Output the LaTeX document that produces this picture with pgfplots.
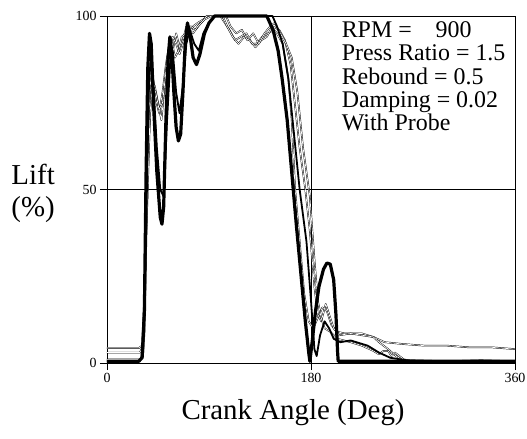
\documentclass[border=0pt]{standalone}
\usepackage{fontspec}
\setmainfont{Liberation Serif}
\usepackage{pgfplots}
\pgfplotsset{compat=1.18}
\begin{document}
\begin{tikzpicture}
\useasboundingbox (-107bp,-76bp) rectangle (420bp,363bp);
\begin{axis}[
 at={(0,0)}, anchor=south west,
 scale only axis, width=408bp, height=347bp,
 xmin=0, xmax=360, ymin=0, ymax=100,
 xtick={0,180,360}, ytick={0,50,100},
 grid=major, grid style={black, line width=0.7bp},
 axis line style={line width=0.9bp},
 tick align=outside, tick pos=left, major tick length=7bp,
 tick style={black, line width=0.8bp},
 /pgf/number format/assume math mode=true,
 ticklabel style={font=\fontsize{14}{14}\selectfont},
 xlabel={Crank Angle (Deg)},
 xlabel style={font=\fontsize{29}{30}\selectfont, at={(axis description cs:0.456,-0.144)}, anchor=center},
 ylabel={Lift\\(\%)},
 ylabel style={font=\fontsize{29}{32}\selectfont, rotate=-90, align=center, at={(axis description cs:-0.181,0.49)}, anchor=center},
 clip=false,
 every axis plot/.append style={line join=round},
]
% thin curve A
\addplot[black, line width=0.45bp, double=white, double distance=0.7bp] coordinates {
(0,4.3) (28,4.3) (31,5) (33,20) (36,60) (38,80) (40,84) (43,76) (46,72) (49,78) (52,86) (55,92) (58,90) (61,95) (64,91) (67,93) (70,97) (73,95) (76,97) (80,98) (85,99) (90,100) (100,100) (104,98) (108,96) (113,93) (118,94) (123,95) (128,92) (132,92) (137,94) (142,95) (147,96) (150,95) (155,92) (160,82) (163,70) (166,50) (170,35) (174,20) (178,12) (182,10) (186,13) (190,16) (194,15) (198,11) (203,9) (210,8.5) (225,8.5) (235,7.5) (245,6) (260,5.5) (280,5) (300,5) (320,4.5) (340,4.5) (360,4)
};
% thin curve B
\addplot[black, line width=0.45bp, double=white, double distance=0.7bp] coordinates {
(0,3) (29,3) (32,5) (34,30) (37,65) (39,78) (42,80) (45,75) (48,70) (51,80) (54,90) (57,93) (60,88) (63,90) (66,94) (70,95) (74,97) (78,96) (83,98) (88,100) (102,100) (106,97) (111,94) (116,92) (121,94) (126,93) (131,91) (136,93) (141,94) (146,97) (152,96) (157,93) (162,86) (166,74) (170,62) (175,50) (179,38) (183,22) (186,14) (189,12) (193,17) (196,14) (200,10) (205,8) (215,8.5) (225,8) (235,7.5) (240,6) (248,4) (255,2) (260,1) (270,0.8) (300,0.5) (330,0.8) (360,0.5)
};
% thin curve C
\addplot[black, line width=0.45bp, double=white, double distance=0.7bp] coordinates {
(0,1) (30,1) (33,8) (35,40) (38,72) (40,80) (43,78) (46,73) (49,75) (52,84) (55,91) (58,94) (61,92) (64,89) (68,93) (72,96) (76,95) (80,97) (86,99) (92,100) (105,100) (109,97) (114,95) (119,96) (124,93) (129,95) (134,92) (139,95) (144,97) (148,98) (153,95) (158,92) (163,88) (168,78) (173,62) (179,48) (183,30) (186,18) (189,13) (192,10) (197,9) (203,7) (215,6) (225,5) (235,3.5) (240,2.5) (244,3.5) (248,3.5) (251,2) (254,3) (258,2) (262,1) (267,0.5) (360,0.5)
};
% medium curve M
\addplot[black, line width=1.8bp] coordinates {
(0,0.5) (29,0.5) (32,3) (34,30) (37,80) (39,90) (41,80) (44,62) (47,50) (50,48) (53,70) (56,88) (58,90) (61,78) (64,72) (67,80) (70,92) (73,96) (77,92) (81,90) (85,95) (90,98) (95,100) (146,100) (150,97) (155,92) (160,82) (165,66) (170,50) (176,35) (180,18) (183,4) (185,2) (188,8) (192,12) (196,10) (200,7) (206,6) (215,6.5) (230,5) (240,3) (250,1.5) (260,1) (270,0.5) (360,0.5)
};
% thick curve S
\addplot[black, line width=3.2bp] coordinates {
(0,0.5) (28,0.5) (31,1.5) (33,15) (34.5,55) (36,85) (37.5,95) (39,92) (41,75) (44,55) (47,42) (48.5,40) (50,45) (52,70) (54,88) (55.5,94) (57,90) (59,78) (61,68) (63,64) (65,66) (67,78) (69,92) (71,98) (73,95) (76,88) (79,86) (82,89) (86,95) (90,98) (95,100) (141,100) (146.5,96) (151,90) (154.5,82) (159,70) (163,55) (167,40) (171,26) (175,12) (178,3) (179,0.5) (181,6) (184,15) (187,22) (191,27) (194,28.8) (197,28.5) (200,24) (202,14) (203.5,3) (204,0.5) (360,0.5)
};
\node[anchor=north west, align=left, inner sep=0pt, font=\fontsize{24}{23.5}\selectfont] at (axis cs:207,98.5)
 {RPM =\hspace{24bp}900\\Press Ratio = 1.5\\Rebound = 0.5\\Damping = 0.02\\With Probe};
\end{axis}
\end{tikzpicture}
\end{document}
